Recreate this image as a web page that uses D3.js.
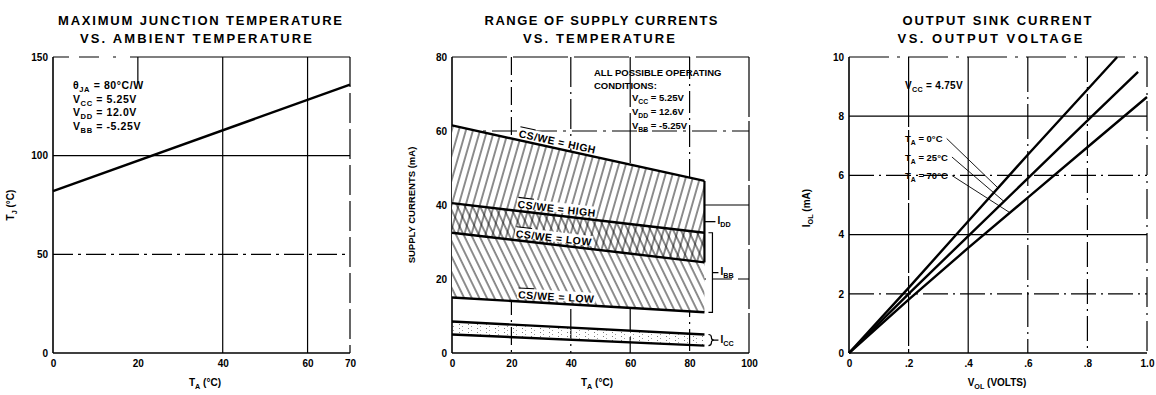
<!DOCTYPE html>
<html>
<head>
<meta charset="utf-8">
<script src="https://cdn.jsdelivr.net/npm/d3@7"></script>
<style>
  body { margin: 0; background: #fff; }
  svg { display: block; font-family: "Liberation Sans", Arial, sans-serif; }
  .tick text { font-size: 10px; font-weight: bold; fill: #000; }
</style>
</head>
<body>
<script>
// Three datasheet graphs side by side

// --- panel 1: max junction temperature vs ambient
var ambientTemp = [0, 70];
var junctionTemp = [82, 136];
var p1XTicks = [0, 20, 40, 60, 70];
var p1YTicks = [0, 50, 100, 150];
var p1Notes = ["\u03B8_{JA} = 80\u00B0C/W", "V_{CC} = 5.25V", "V_{DD} = 12.0V", "V_{BB} = -5.25V"];

// --- panel 2: range of supply currents vs temperature
var supplyTemp = [0, 85];
var iddHigh = [61.5, 46.5];   // CS/WE = HIGH (top of IDD band)
var ibbHigh = [40.5, 32.5];   // CS/WE = HIGH (top of IBB band)
var iddLow = [32.5, 24.5];    // CS/WE = LOW (bottom of IDD band)
var ibbLow = [15, 11];        // CS/WE = LOW (bottom of IBB band)
var iccHigh = [8.5, 5];
var iccLow = [5, 2];
var p2XTicks = [0, 20, 40, 60, 80, 100];
var p2YTicks = [0, 20, 40, 60, 80];
var p2Notes = ["ALL POSSIBLE OPERATING", "CONDITIONS:", "V_{CC} = 5.25V", "V_{DD} = 12.6V", "V_{BB} = -5.25V"];

// --- panel 3: output sink current vs output voltage
var volts0 = [0, 0.2, 0.4, 0.6, 0.9];
var sink0 = [0, 2.2, 4.45, 6.7, 10];
var volts25 = [0, 0.2, 0.4, 0.6, 0.8, 0.97];
var sink25 = [0, 2.0, 3.95, 5.9, 7.85, 9.5];
var volts70 = [0, 0.2, 0.4, 0.6, 0.8, 1.0];
var sink70 = [0, 1.8, 3.55, 5.25, 6.95, 8.65];
var p3XTicks = [0, 0.2, 0.4, 0.6, 0.8, 1.0];
var p3XLabels = ["0", ".2", ".4", ".6", ".8", "1.0"];
var p3YTicks = [0, 2, 4, 6, 8, 10];
var p3Series = ["T_{A} = 0\u00B0C", "T_{A} = 25\u00B0C", "T_{A} = 70\u00B0C"];

var W = 1156, H = 395;
var svg = d3.select("body").append("svg").attr("width", W).attr("height", H);

var s1 = { x: d3.scaleLinear().domain([0, 70]).range([53, 350]),  y: d3.scaleLinear().domain([0, 150]).range([353, 57]) };
var s2 = { x: d3.scaleLinear().domain([0, 100]).range([452, 749]), y: d3.scaleLinear().domain([0, 80]).range([353, 57]) };
var s3 = { x: d3.scaleLinear().domain([0, 1]).range([849, 1147]),  y: d3.scaleLinear().domain([0, 10]).range([353, 57]) };

// text with _{sub} and ~{overline} markup
function rich(sel, str) {
  var parts = str.split(/(_\{[^}]*\}|~\{[^}]*\})/);
  var down = false;
  parts.forEach(function(p) {
    if (!p) return;
    var ts = sel.append("tspan");
    if (p.indexOf("_{") === 0) {
      ts.text(p.slice(2, -1)).attr("dy", 3).style("font-size", "0.72em");
      down = true;
      return;
    }
    if (p.indexOf("~{") === 0) {
      ts.text(p.slice(2, -1)).style("text-decoration", "overline");
    } else {
      ts.text(p);
    }
    if (down) { ts.attr("dy", -3); down = false; }
  });
  return sel;
}

function label(g, str, x, y, size, anchor, rot, spacing) {
  var t = g.append("text")
    .attr("x", x).attr("y", y)
    .attr("text-anchor", anchor || "start")
    .style("font-size", size + "px")
    .style("font-weight", "bold");
  if (spacing) t.style("letter-spacing", spacing + "px");
  if (rot) t.attr("transform", "rotate(" + rot + "," + x + "," + y + ")");
  return rich(t, str);
}

function title(lines, cx, widths) {
  lines.forEach(function(l, i) {
    svg.append("text")
      .attr("x", cx[i]).attr("y", 25 + i * 18)
      .attr("text-anchor", "middle")
      .attr("textLength", widths[i])
      .attr("lengthAdjust", "spacing")
      .style("font-size", "13px").style("font-weight", "bold")
      .text(l);
  });
}

function vLine(g, s, v, dash, w) {
  g.append("line")
    .attr("x1", s.x(v)).attr("x2", s.x(v))
    .attr("y1", s.y.range()[1]).attr("y2", s.y.range()[0])
    .attr("stroke", "#000").attr("stroke-width", w || 1.2)
    .attr("stroke-dasharray", dash || null);
}
function hLine(g, s, v, dash, w) {
  g.append("line")
    .attr("x1", s.x.range()[0]).attr("x2", s.x.range()[1])
    .attr("y1", s.y(v)).attr("y2", s.y(v))
    .attr("stroke", "#000").attr("stroke-width", w || 1.2)
    .attr("stroke-dasharray", dash || null);
}

function axes(g, s, xt, yt, xfmt) {
  var ax = d3.axisBottom(s.x).tickValues(xt).tickSize(0).tickPadding(7);
  if (xfmt) ax.tickFormat(function(d, i) { return xfmt[i]; });
  g.append("g").attr("transform", "translate(0," + s.y.range()[0] + ")").call(ax)
    .call(function(a) { a.select(".domain").remove(); });
  g.append("g").attr("transform", "translate(" + s.x.range()[0] + ",0)")
    .call(d3.axisLeft(s.y).tickValues(yt).tickSize(0).tickPadding(5))
    .call(function(a) { a.select(".domain").remove(); });
}

// ---------- panel 1 ----------
var g1 = svg.append("g");
title(["MAXIMUM JUNCTION TEMPERATURE", "VS. AMBIENT TEMPERATURE"], [200, 196], [284, 232]);
vLine(g1, s1, 20, "26,1000");
vLine(g1, s1, 40);
vLine(g1, s1, 60);
vLine(g1, s1, 70, "30,6");
hLine(g1, s1, 150, "16,10,20,14,3,14,400");
hLine(g1, s1, 100);
hLine(g1, s1, 50, "20,5,3,5");
hLine(g1, s1, 0, null, 1.6);
vLine(g1, s1, 0, null, 1.6);

g1.append("path")
  .datum(ambientTemp.map(function(t, i) { return [t, junctionTemp[i]]; }))
  .attr("fill", "none").attr("stroke", "#000").attr("stroke-width", 2.4)
  .attr("d", d3.line().x(function(d) { return s1.x(d[0]); }).y(function(d) { return s1.y(d[1]); }));

axes(g1, s1, p1XTicks, p1YTicks);
p1Notes.forEach(function(n, i) { label(g1, n, 73, 89 + i * 13.7, 10.5, null, null, 0.6); });
label(g1, "T_{J} (\u00B0C)", 14, 205, 10, "middle", -90);
label(g1, "T_{A} (\u00B0C)", 205, 386, 10, "middle");

// ---------- panel 2 ----------
var g2 = svg.append("g");
title(["RANGE OF SUPPLY CURRENTS", "VS. TEMPERATURE"], [601, 599], [233, 152]);

var defs = svg.append("defs");
defs.append("pattern").attr("id", "hatchF")
  .attr("patternUnits", "userSpaceOnUse").attr("width", 6.8).attr("height", 12)
  .attr("patternTransform", "rotate(16)")
  .append("line").attr("x1", 1).attr("x2", 1).attr("y1", 0).attr("y2", 12)
  .attr("stroke", "#000").attr("stroke-width", 0.9);
defs.append("pattern").attr("id", "hatchB")
  .attr("patternUnits", "userSpaceOnUse").attr("width", 6.8).attr("height", 12)
  .attr("patternTransform", "rotate(-26)")
  .append("line").attr("x1", 1).attr("x2", 1).attr("y1", 0).attr("y2", 12)
  .attr("stroke", "#000").attr("stroke-width", 0.9);
var dots = defs.append("pattern").attr("id", "stipple")
  .attr("patternUnits", "userSpaceOnUse").attr("width", 9).attr("height", 4);
dots.append("rect").attr("x", 0).attr("y", 0).attr("width", 1).attr("height", 1).attr("fill", "#777");
dots.append("rect").attr("x", 3).attr("y", 2).attr("width", 1).attr("height", 1).attr("fill", "#999");

vLine(g2, s2, 20, "18,5,2,5");
vLine(g2, s2, 40, "30,5,2,5");
vLine(g2, s2, 60, "50,6");
vLine(g2, s2, 80, "22,5,2,5");
vLine(g2, s2, 100, "60,4");
hLine(g2, s2, 80, "55,6");
hLine(g2, s2, 60, "25,6,3,6");
hLine(g2, s2, 40);
hLine(g2, s2, 20, "20,6");
hLine(g2, s2, 0, null, 1.6);
vLine(g2, s2, 0, null, 1.6);

function band(hi, lo) {
  return supplyTemp.map(function(t, i) { return { t: t, hi: hi[i], lo: lo[i] }; });
}
var area2 = d3.area()
  .x(function(d) { return s2.x(d.t); })
  .y0(function(d) { return s2.y(d.lo); })
  .y1(function(d) { return s2.y(d.hi); });

g2.append("path").datum(band(iddHigh, iddLow)).attr("d", area2).attr("fill", "#fff");
g2.append("path").datum(band(ibbHigh, ibbLow)).attr("d", area2).attr("fill", "#fff");
g2.append("path").datum(band(iddHigh, iddLow)).attr("d", area2).attr("fill", "url(#hatchF)");
g2.append("path").datum(band(ibbHigh, ibbLow)).attr("d", area2).attr("fill", "url(#hatchB)");
g2.append("path").datum(band(iccHigh, iccLow)).attr("d", area2).attr("fill", "url(#stipple)");

var line2 = d3.line().x(function(d) { return s2.x(d[0]); }).y(function(d) { return s2.y(d[1]); });
function pts(arr) { return supplyTemp.map(function(t, i) { return [t, arr[i]]; }); }
[iddHigh, ibbHigh, iddLow, ibbLow, iccHigh, iccLow].forEach(function(arr) {
  g2.append("path").datum(pts(arr))
    .attr("fill", "none").attr("stroke", "#000").attr("stroke-width", 2.4)
    .attr("d", line2);
});
// right edge of IDD band
g2.append("line")
  .attr("x1", s2.x(85)).attr("x2", s2.x(85))
  .attr("y1", s2.y(iddHigh[1])).attr("y2", s2.y(iddLow[1]))
  .attr("stroke", "#000").attr("stroke-width", 2.2);

// labels sitting on the band edges
var lineLabels = [
  { arr: iddHigh, t: 35, text: "~{CS}/WE = HIGH" },
  { arr: ibbHigh, t: 35, text: "~{CS}/WE = HIGH" },
  { arr: iddLow, t: 34, text: "~{CS}/WE = LOW" },
  { arr: ibbLow, t: 35, text: "~{CS}/WE = LOW" }
];
lineLabels.forEach(function(L) {
  var v = L.arr[0] + (L.arr[1] - L.arr[0]) * L.t / 85;
  var ang = Math.atan2(s2.y(L.arr[1]) - s2.y(L.arr[0]), s2.x(85) - s2.x(0)) * 180 / Math.PI;
  var lg = g2.append("g").attr("transform", "translate(" + s2.x(L.t) + "," + s2.y(v) + ") rotate(" + ang + ")");
  var bg = lg.append("rect").attr("fill", "#fff");
  var t = lg.append("text").attr("x", 0).attr("y", -3).attr("text-anchor", "middle")
    .style("font-size", "10.5px").style("font-weight", "bold").style("letter-spacing", "0.5px");
  rich(t, L.text);
  var bb = t.node().getBBox();
  bg.attr("x", bb.x - 1).attr("y", bb.y).attr("width", bb.width + 2).attr("height", bb.height - 2);
});

// brackets on the right
var xe = s2.x(85);
var yIddMid = s2.y((iddHigh[1] + iddLow[1]) / 2);
g2.append("path").attr("d", "M" + xe + "," + yIddMid + "H" + (xe + 11))
  .attr("stroke", "#000").attr("stroke-width", 1.3).attr("fill", "none");
label(g2, "I_{DD}", xe + 13, yIddMid + 2, 10);

var xb = xe + 8, yb0 = s2.y(ibbHigh[1]), yb1 = s2.y(ibbLow[1]);
var ybMid = (yb0 + yb1) / 2;
g2.append("path").attr("d", "M" + (xb - 4) + "," + yb0 + "H" + xb + "V" + yb1 + "H" + (xb - 4) + "M" + xb + "," + ybMid + "H" + (xb + 6))
  .attr("stroke", "#000").attr("stroke-width", 1.2).attr("fill", "none");
label(g2, "I_{BB}", xb + 8, ybMid + 2, 10);

var yc0 = s2.y(iccHigh[1]), yc1 = s2.y(iccLow[1]), ycm = (yc0 + yc1) / 2, xc = xe + 4;
g2.append("path")
  .attr("d", "M" + xc + "," + yc0 + " Q" + (xc + 3) + "," + yc0 + " " + (xc + 3) + "," + (yc0 + 3) +
    " L" + (xc + 3) + "," + (ycm - 2) + " Q" + (xc + 3) + "," + ycm + " " + (xc + 6) + "," + ycm +
    " Q" + (xc + 3) + "," + ycm + " " + (xc + 3) + "," + (ycm + 2) +
    " L" + (xc + 3) + "," + (yc1 - 3) + " Q" + (xc + 3) + "," + yc1 + " " + xc + "," + yc1 +
    " M" + (xc + 6) + "," + ycm + " H" + (xc + 10))
  .attr("stroke", "#000").attr("stroke-width", 1.2).attr("fill", "none");
label(g2, "I_{CC}", xc + 12, ycm + 3, 10);

axes(g2, s2, p2XTicks, p2YTicks);
[[594, 76], [594, 89], [632, 101], [632, 115], [632, 129]].forEach(function(p, i) {
  label(g2, p2Notes[i], p[0], p[1], 9.5);
});
label(g2, "SUPPLY CURRENTS (mA)", 415, 205, 9.5, "middle", -90);
label(g2, "T_{A} (\u00B0C)", 597, 386, 10, "middle");

// ---------- panel 3 ----------
var g3 = svg.append("g");
title(["OUTPUT SINK CURRENT", "VS. OUTPUT VOLTAGE"], [997, 990], [189, 185]);

vLine(g3, s3, 0.2, "70,3");
vLine(g3, s3, 0.4);
vLine(g3, s3, 0.6, "35,5,2,5");
vLine(g3, s3, 0.8, "25,5,2,5");
vLine(g3, s3, 1.0, "30,6,2,6");
hLine(g3, s3, 10, "40,8,3,8");
hLine(g3, s3, 8);
hLine(g3, s3, 6, "25,5,2,5");
hLine(g3, s3, 4);
hLine(g3, s3, 2, "25,5,2,5");
hLine(g3, s3, 0, null, 1.6);
vLine(g3, s3, 0, null, 1.6);

var line3 = d3.line().x(function(d) { return s3.x(d[0]); }).y(function(d) { return s3.y(d[1]); });
var sinkSets = [[volts0, sink0], [volts25, sink25], [volts70, sink70]];
sinkSets.forEach(function(set) {
  g3.append("path").datum(set[0].map(function(v, i) { return [v, set[1][i]]; }))
    .attr("fill", "none").attr("stroke", "#000").attr("stroke-width", 2.4)
    .attr("d", line3);
});

function interp(xs, ys, v) {
  for (var i = 1; i < xs.length; i++) {
    if (v <= xs[i]) return ys[i - 1] + (ys[i] - ys[i - 1]) * (v - xs[i - 1]) / (xs[i] - xs[i - 1]);
  }
  return ys[ys.length - 1];
}

axes(g3, s3, p3XTicks, p3YTicks, p3XLabels);
label(g3, "V_{CC} = 4.75V", 905, 89, 10, null, null, 0.3);
var leaderV = [0.5, 0.52, 0.54];
p3Series.forEach(function(name, i) {
  var t = label(g3, name, 905, 142 + i * 18.5, 9.5);
  var bb = t.node().getBBox();
  var set = sinkSets[i];
  var v = leaderV[i];
  g3.append("line")
    .attr("x1", bb.x + bb.width + 4).attr("y1", bb.y + bb.height / 2 - 1)
    .attr("x2", s3.x(v)).attr("y2", s3.y(interp(set[0], set[1], v)))
    .attr("stroke", "#000").attr("stroke-width", 0.9);
});
label(g3, "I_{OL} (mA)", 810, 208, 10, "middle", -90);
label(g3, "V_{OL} (VOLTS)", 997, 386, 10, "middle");
</script>
</body>
</html>
